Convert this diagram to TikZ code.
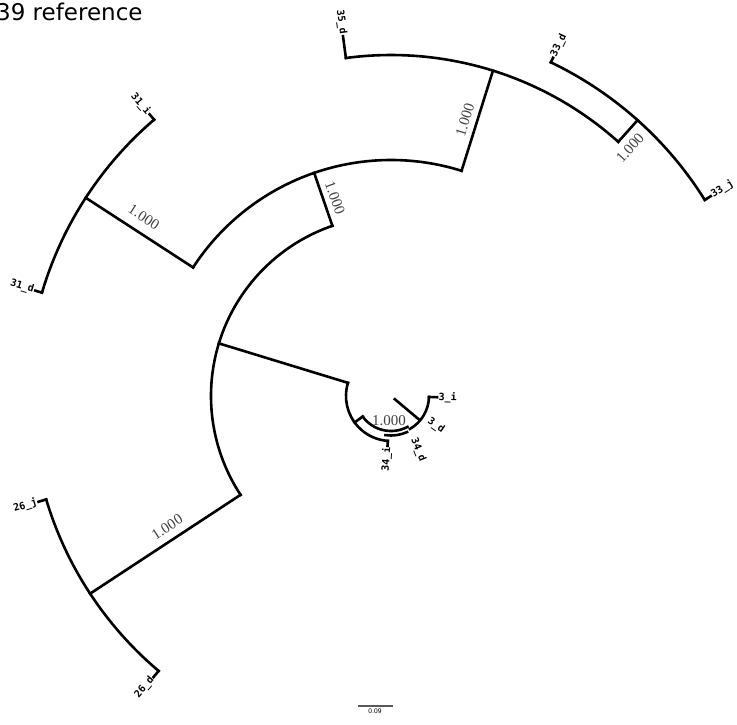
\documentclass[tikz,border=0pt]{standalone}
\usepackage{fontspec}
\setmainfont{Liberation Serif}
\newfontfamily\titlefont{DejaVu Sans}
\newfontfamily\leaffont{DejaVu Sans Mono}
\usetikzlibrary{positioning}
\tikzset{
x=1pt, y=1pt, % one unit is one pixel of the reference
branch/.style={line width=2.6pt, line cap=rect, line join=miter}, % every branch and arc of the tree
leaf/.style={font=\leaffont\bfseries\fontsize{10}{11}\selectfont, inner sep=0.5pt}, % leaf names
support/.style={font=\fontsize{15}{16}\selectfont, text=black!75, inner sep=0pt}, % bootstrap values
}

\begin{document}
\begin{tikzpicture}
\useasboundingbox (-391,-328) rectangle (346,396);

% title and scale bar
\node[font=\titlefont\fontsize{23}{26}\selectfont, anchor=base west, inner sep=0pt] (title) at (-395,376) {39 reference};
\coordinate (bar0) at (-33,-310);
\coordinate (bar1) at (2,-310);
\draw[line width=1.6pt, black!65] (bar0) -- (bar1);
\node[font=\sffamily\fontsize{7}{8}\selectfont, below=3pt of bar0, xshift=17pt, inner sep=0pt] (barlabel) {0.09};

% root arc and its three children
\coordinate (r1) at (109:180);
\coordinate (r2) at (163:180);
\coordinate (r3) at (213.3:180);
\draw[branch] (r1) arc[start angle=109, end angle=213.3, radius=180];

% clade D (31, 35, 33)
\coordinate (d0) at (109:236);
\draw[branch] (r1) -- (d0);
\draw[branch] (72.6:236) arc[start angle=72.6, end angle=147, radius=236];
\coordinate (d1) at (147:236);
\coordinate (d2) at (72.6:236);

% 31 pair
\coordinate (a0) at (147:364);
\draw[branch] (d1) -- (a0);
\draw[branch] (130.6:364) arc[start angle=130.6, end angle=163.5, radius=364];
\draw[branch] (130.6:364) -- (130.6:371) coordinate (t31i);
\draw[branch] (163.5:364) -- (163.5:371) coordinate (t31d);
\node[leaf, rotate=-49.4, anchor=east] (l31i) at (130.6:372) {31\_i};
\node[leaf, rotate=-16.5, anchor=east] (l31d) at (163.5:372) {31\_d};

% 35 and 33
\coordinate (b0) at (72.6:341);
\draw[branch] (d2) -- (b0);
\draw[branch] (48.2:341) arc[start angle=48.2, end angle=97.6, radius=341];
\draw[branch] (97.6:341) -- (97.6:363) coordinate (t35d);
\node[leaf, rotate=-82.4, anchor=east] (l35d) at (97.6:364) {35\_d};
\coordinate (c1) at (48.2:341);
\coordinate (c0) at (48.2:370);
\draw[branch] (c1) -- (c0);
\draw[branch] (32:370) arc[start angle=32, end angle=64.4, radius=370];
\draw[branch] (64.4:370) -- (64.4:375) coordinate (t33d);
\draw[branch] (32:370) -- (32:377) coordinate (t33j);
\node[leaf, rotate=64.4, anchor=west] (l33d) at (64.4:376) {33\_d};
\node[leaf, rotate=32, anchor=west] (l33j) at (32:378) {33\_j};

% 26 pair
\coordinate (f0) at (213.3:360);
\draw[branch] (r3) -- (f0);
\draw[branch] (196.7:360) arc[start angle=196.7, end angle=229.8, radius=360];
\draw[branch] (196.7:360) -- (196.7:368) coordinate (t26j);
\draw[branch] (229.8:360) -- (229.8:368) coordinate (t26d);
\node[leaf, rotate=16.7, anchor=east] (l26j) at (196.7:369) {26\_j};
\node[leaf, rotate=49.8, anchor=east] (l26d) at (229.8:369) {26\_d};

% inner clade (3, 34)
\coordinate (e0) at (163:45);
\draw[branch] (r2) -- (e0);
\draw[branch] (e0) arc[start angle=163, end angle=266, radius=45];
\draw[branch] (266:45) -- (266:50) coordinate (t34i);
\node[leaf, rotate=86, anchor=east] (l34i) at (266:51) {34\_i};
\coordinate (g0) at (216:45);
\coordinate (g1) at (216:35);
\draw[branch] (g0) -- (g1);
\draw[branch] (g1) arc[start angle=216, end angle=298, radius=35];
\draw[branch] (262:39.5) arc[start angle=262, end angle=294, radius=39.5];
\draw[branch] (300:38) arc[start angle=300, end angle=358.5, radius=38];
\draw[branch] (358.5:38) -- (358.5:46) coordinate (t3i);
\draw[branch] (320:37) -- (320:5) coordinate (h0);
\node[leaf, rotate=-1.5, anchor=west] (l3i) at (358.5:47) {3\_i};
\node[leaf, rotate=-35] (l3d) at (45,-30) {3\_d};
\node[leaf, rotate=-68] (l34d) at (27,-54) {34\_d};

% support values
\node[support, rotate=-33] (s31) at (-247,179) {1.000};
\node[support, rotate=-70] (sD) at (-56,198) {1.000};
\node[support, rotate=72.6] (sB) at (74,276) {1.000};
\node[support, rotate=48] (s33) at (239,248) {1.000};
\node[support, rotate=33] (s26) at (-224,-131) {1.000};
\node[support] (s34) at (-2,-25) {1.000};
\end{tikzpicture}
\end{document}
